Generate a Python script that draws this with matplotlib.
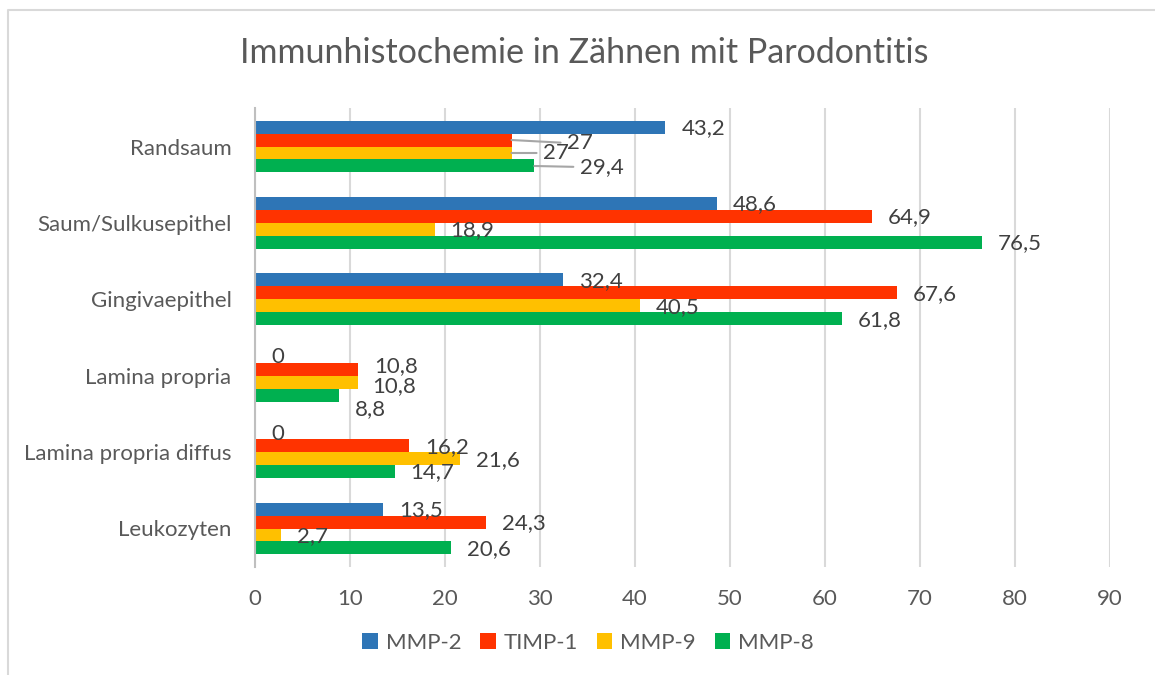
import numpy as np
import matplotlib
matplotlib.use("Agg")
import matplotlib.pyplot as plt
from matplotlib.lines import Line2D
from matplotlib.patches import Patch

plt.rcParams['font.family'] = ['Lato', 'DejaVu Sans']

# categories, bottom to top (Excel draws the first one at the top)
categories = ['Leukozyten', 'Lamina propria diffus', 'Lamina propria',
              'Gingivaepithel', 'Saum/Sulkusepithel', 'Randsaum']
series = ['MMP-2', 'TIMP-1', 'MMP-9', 'MMP-8']
mmp2 = [13.5, 0, 0, 32.4, 48.6, 43.2]
timp1 = [24.3, 16.2, 10.8, 67.6, 64.9, 27]
mmp9 = [2.7, 21.6, 10.8, 40.5, 18.9, 27]
mmp8 = [20.6, 14.7, 8.8, 61.8, 76.5, 29.4]
values = [mmp2, timp1, mmp9, mmp8]
colors = ['#2E75B6', '#FF3300', '#FFC000', '#00B050']

# label nudges (pixels) where Excel labels were moved by hand
default_off = (16, -1)
nudges = {
    ('Randsaum', 'TIMP-1'): (56, -3),
    ('Randsaum', 'MMP-9'): (32, 0),
    ('Randsaum', 'MMP-8'): (46, -1),
    ('Lamina propria', 'TIMP-1'): (17, 3),
    ('Lamina propria', 'MMP-9'): (15, -4),
    ('Lamina propria', 'MMP-8'): (16, -14),
}
leaders = {('Randsaum', 'TIMP-1'), ('Randsaum', 'MMP-9'), ('Randsaum', 'MMP-8')}

fig = plt.figure(figsize=(11.55, 6.75), dpi=100)
ax = fig.add_axes([255 / 1155, 1 - 566.7 / 675, 855 / 1155, 458.4 / 675])

y = np.arange(len(categories))
h = 0.17
offsets = [1.5 * h, 0.5 * h, -0.5 * h, -1.5 * h]

for s, vals, col, off in zip(series, values, colors, offsets):
    ax.barh(y + off, vals, height=h, color=col, zorder=3)
    for yi, v, cat in zip(y, vals, categories):
        dx, dy = nudges.get((cat, s), default_off)
        txt = f'{v:g}'.replace('.', ',')
        kw = {}
        if (cat, s) in leaders:
            kw['arrowprops'] = dict(arrowstyle='-', color='#A6A6A6', lw=1.5,
                                    shrinkA=3, shrinkB=0, relpos=(0, 0.5))
        ax.annotate(txt, xy=(v, yi + off), xytext=(dx, dy),
                    textcoords='offset pixels', ha='left', va='center',
                    fontsize=16, color='#404040', zorder=5, **kw)

ax.set_xlim(0, 90)
ax.set_ylim(-0.5, 5.5)
ax.set_xticks(np.arange(0, 91, 10))
ax.set_yticks(y)
ax.set_yticklabels(categories)
ax.grid(axis='x', color='#D9D9D9', linewidth=1.5, zorder=0)
for sp in ['top', 'right', 'bottom']:
    ax.spines[sp].set_visible(False)
ax.spines['left'].set_color('#BFBFBF')
ax.spines['left'].set_linewidth(1.5)
ax.spines['left'].set_zorder(4)
ax.tick_params(axis='both', length=0, labelsize=16, colors='#595959')
ax.tick_params(axis='y', pad=17)
ax.tick_params(axis='x', pad=16)

fig.text(584 / 1155, 1 - 53 / 675, 'Immunhistochemie in Zähnen mit Parodontitis',
         ha='center', va='center', fontsize=24.5, color='#595959')

handles = [Patch(facecolor=c, edgecolor='none') for c in colors]
fig.legend(handles, series, loc='center', bbox_to_anchor=(588 / 1155, 1 - 643 / 675),
           ncol=4, frameon=False, fontsize=16, labelcolor='#595959',
           handlelength=0.7, handleheight=0.7, handletextpad=0.35, columnspacing=0.85)

# chart border (only top and left visible in the crop)
fig.add_artist(Line2D([8 / 1155, 8 / 1155, 1], [0, 1 - 10 / 675, 1 - 10 / 675],
                      transform=fig.transFigure, color='#D9D9D9', linewidth=1.5))

fig.savefig('out.png', dpi=100)
